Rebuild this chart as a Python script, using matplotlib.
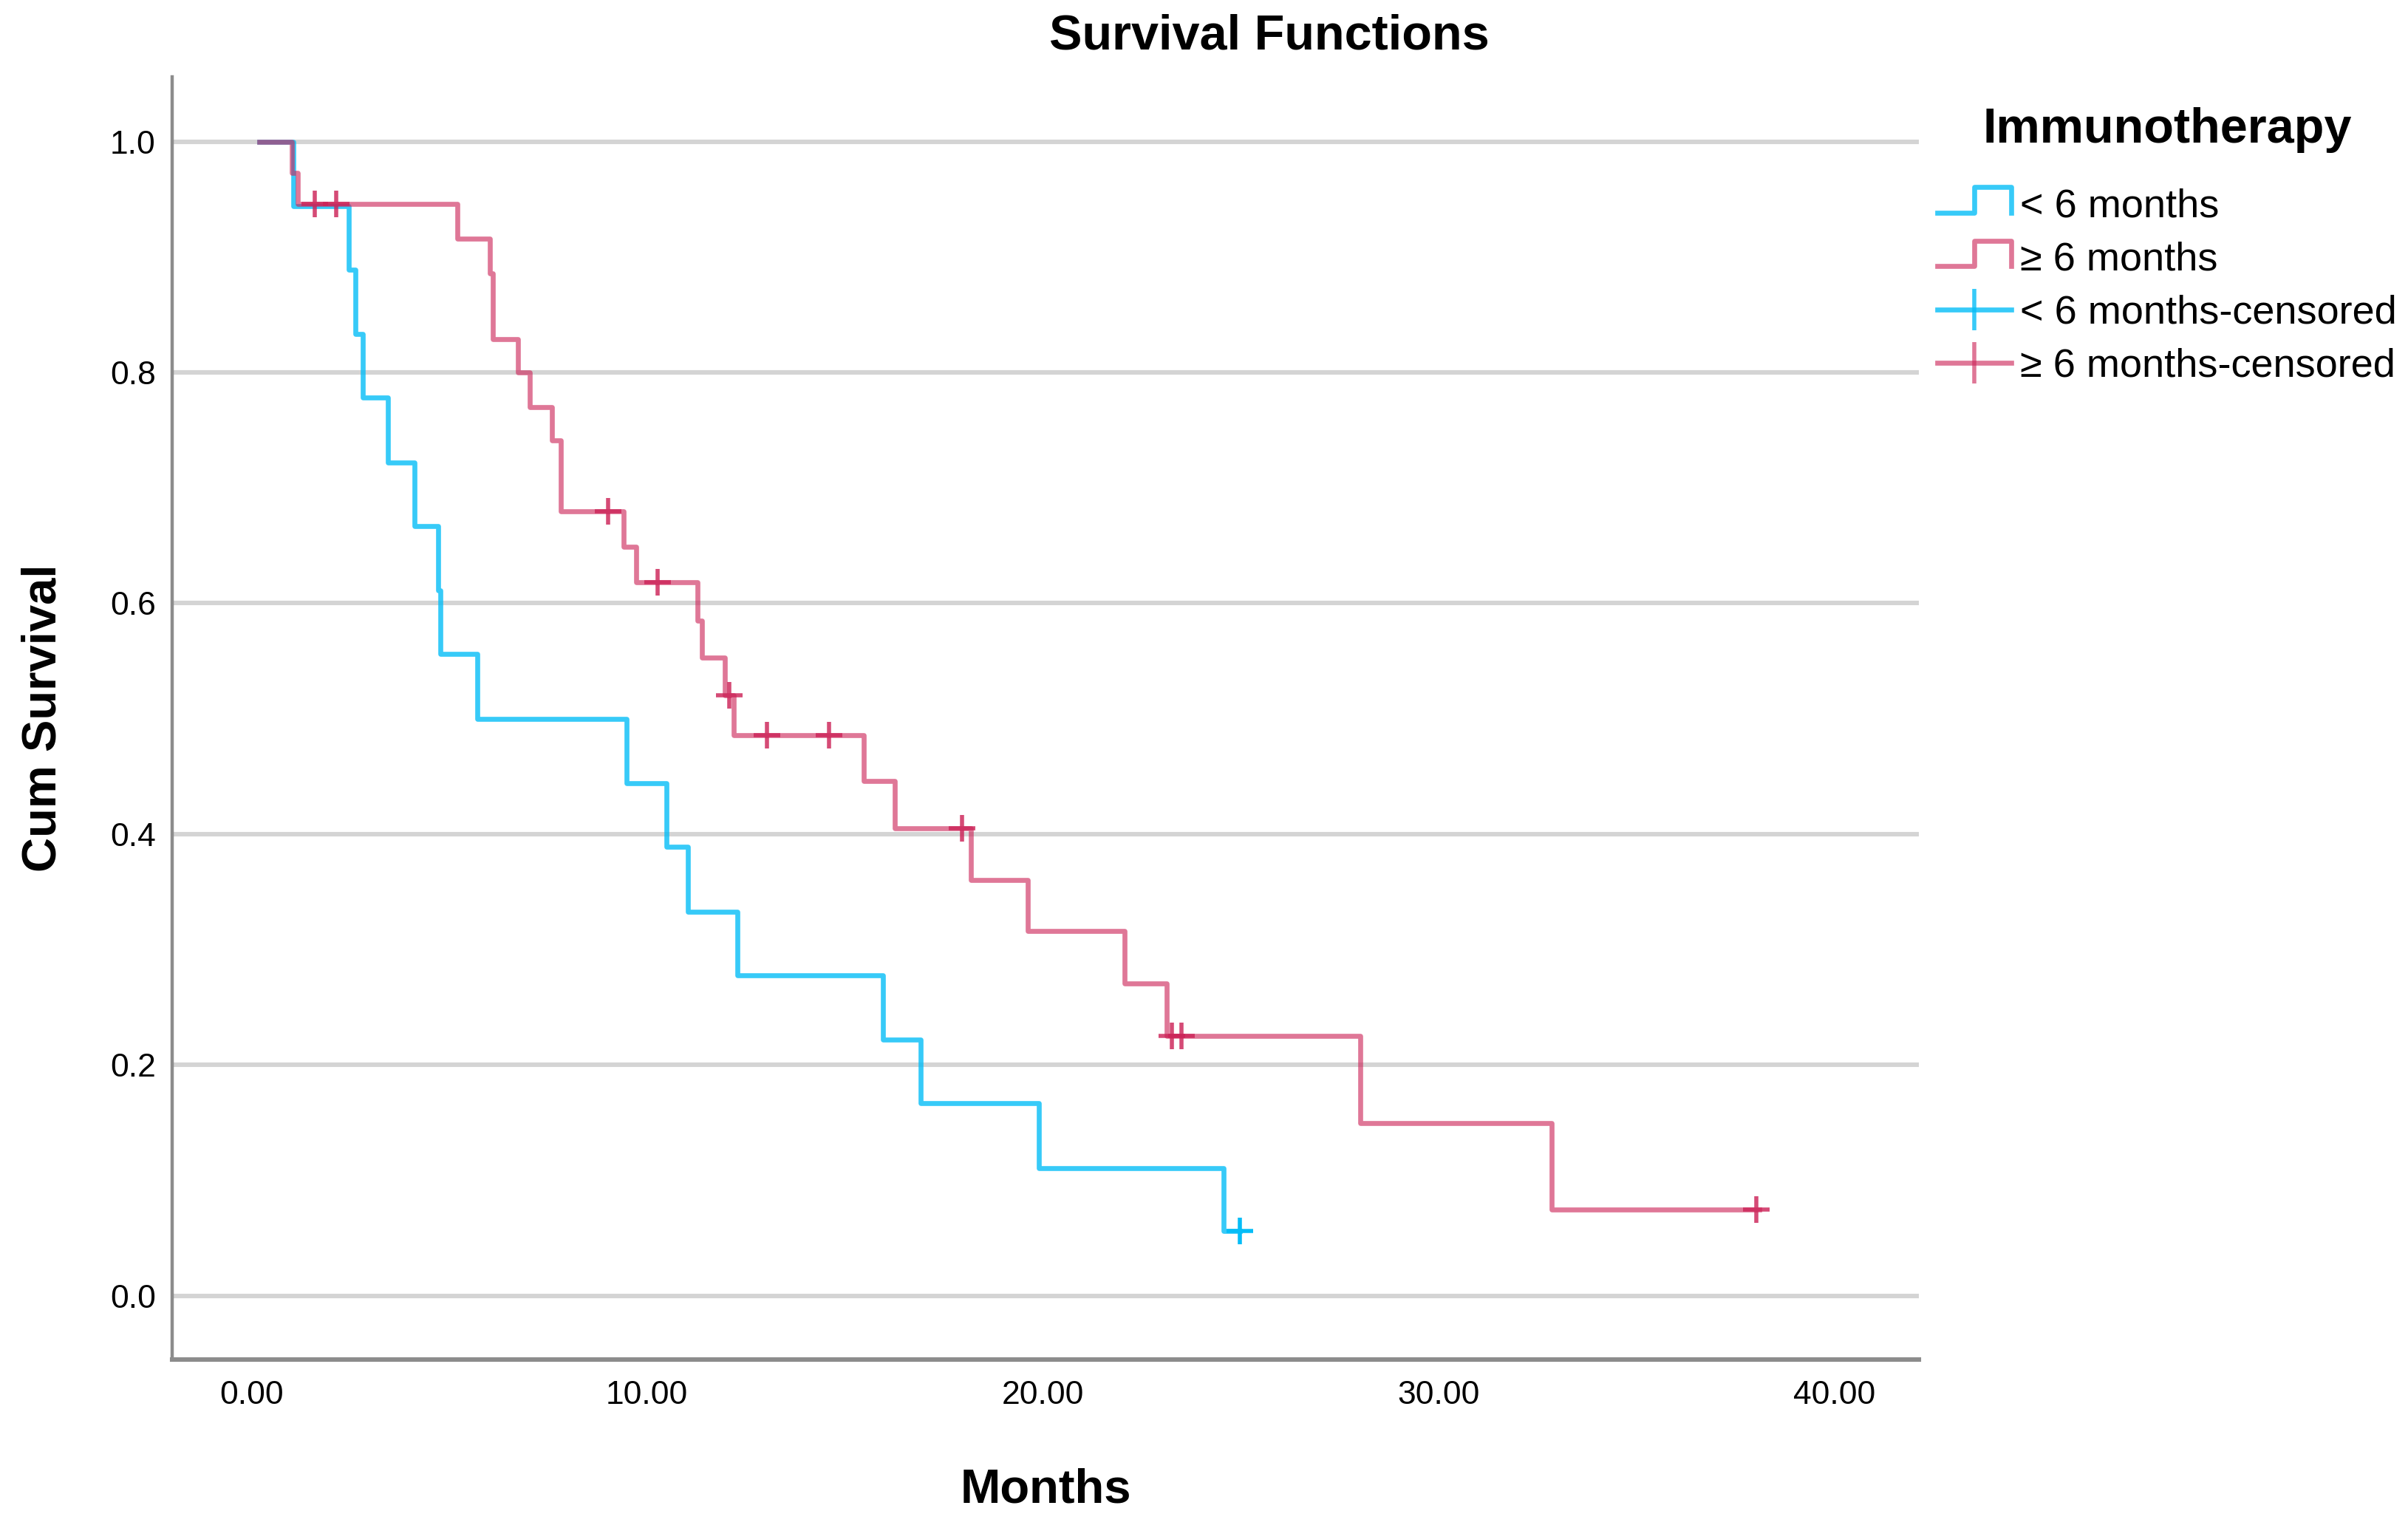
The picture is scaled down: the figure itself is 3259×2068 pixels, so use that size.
import numpy as np
import matplotlib
matplotlib.use("Agg")
import matplotlib.pyplot as plt
from matplotlib.lines import Line2D
from matplotlib.legend_handler import HandlerBase

plt.rcParams['font.family'] = ['Liberation Sans', 'DejaVu Sans']

# < 6 months group: step times and survival levels
blue_t = [0.2, 1.07, 2.46, 2.63, 2.82, 3.45, 4.12, 4.72, 4.78, 5.71, 9.48,
          10.50, 11.03, 12.28, 15.97, 16.92, 19.90, 24.57]
blue_s = [1.0, 0.944, 0.889, 0.833, 0.778, 0.722, 0.667, 0.611, 0.556, 0.500,
          0.444, 0.389, 0.333, 0.278, 0.222, 0.167, 0.111, 0.056]
blue_end = 24.98
blue_cens = [24.98]

# >= 6 months group
red_t = [0.2, 1.02, 1.18, 5.20, 6.02, 6.10, 6.73, 7.03, 7.60, 7.82, 9.40,
         9.72, 11.28, 11.38, 11.97, 12.19, 15.48, 16.26, 18.18, 19.63, 22.07,
         23.14, 28.03, 32.87]
red_s = [1.0, 0.973, 0.946, 0.916, 0.886, 0.829, 0.800, 0.770, 0.741, 0.680,
         0.649, 0.618, 0.585, 0.553, 0.520, 0.486, 0.446, 0.405, 0.360, 0.316,
         0.271, 0.225, 0.150, 0.075]
red_end = 38.1
red_cens = [1.61, 2.15, 9.01, 10.26, 12.08, 13.04, 14.6, 17.97, 23.26, 23.5, 38.03]

labels = ['< 6 months', '\u2265 6 months', '< 6 months-censored', '\u2265 6 months-censored']
blue = '#05bdf7'
red = '#cc2358'


def level_at(ts, ss, x):
    i = np.searchsorted(ts, x, side='right') - 1
    return ss[i]


class StepHandler(HandlerBase):
    def create_artists(self, legend, orig_handle, xdescent, ydescent,
                       width, height, fontsize, trans):
        x0, y0 = -xdescent, -ydescent
        xs = [x0, x0 + 0.5 * width, x0 + 0.5 * width, x0 + width, x0 + width]
        ys = [y0 + 0.15 * height, y0 + 0.15 * height, y0 + 1.05 * height,
              y0 + 1.05 * height, y0 + 0.15 * height]
        ln = Line2D(xs, ys, color=orig_handle.get_color(),
                    lw=orig_handle.get_linewidth(), alpha=orig_handle.get_alpha(),
                    transform=trans)
        return [ln]


fig = plt.figure(figsize=(16.295, 10.34), dpi=200)
ax = fig.add_axes([0.0715, 0.1103, 0.7255, 0.8394])

for ts, ss, end, cens, col, a in [(blue_t, blue_s, blue_end, blue_cens, blue, 0.8),
                                  (red_t, red_s, red_end, red_cens, red, 0.62)]:
    xs = list(ts) + [end]
    ys = list(ss) + [ss[-1]]
    ax.plot(xs, ys, drawstyle='steps-post', color=col, lw=2.4, alpha=a, zorder=3)
    cy = [level_at(ts, ss, c) for c in cens]
    ax.plot(cens, cy, ls='none', marker='+', ms=13, mew=2.0, color=col,
            alpha=min(1, a + 0.2), zorder=4)

ax.set_xlim(-2.0, 42.15)
ax.set_ylim(-0.055, 1.056)
ax.set_xticks([0, 10, 20, 30, 40])
ax.set_xticklabels(['0.00', '10.00', '20.00', '30.00', '40.00'])
ax.set_yticks([0.0, 0.2, 0.4, 0.6, 0.8, 1.0])
ax.set_yticklabels(['0.0', '0.2', '0.4', '0.6', '0.8', '1.0'])
ax.tick_params(axis='both', length=0, labelsize=16)
ax.tick_params(axis='x', pad=10)
ax.tick_params(axis='y', pad=8)
ax.grid(axis='y', color='#d4d4d4', lw=2.2)
ax.set_axisbelow(True)
for s in ['top', 'right']:
    ax.spines[s].set_visible(False)
ax.spines['left'].set_color('#8c8c8c')
ax.spines['left'].set_linewidth(1.6)
ax.spines['bottom'].set_color('#8c8c8c')
ax.spines['bottom'].set_linewidth(2.2)

ax.set_xlabel('Months', fontsize=23.5, fontweight='bold', va='center')
ax.set_ylabel('Cum Survival', fontsize=23.5, fontweight='bold', va='center')
ax.xaxis.set_label_coords(0.5, (1840 - 2017) / 1736)
ax.yaxis.set_label_coords((58 - 233) / 2365, 0.5)
fig.text(0.527, 0.976, 'Survival Functions', fontsize=24, fontweight='bold',
         ha='center', va='center')

h1 = Line2D([], [], color=blue, lw=2.4, alpha=0.8)
h2 = Line2D([], [], color=red, lw=2.4, alpha=0.62)
h3 = Line2D([0, 1], [0, 0], color=blue, lw=2.4, alpha=0.8, marker='|', ms=20, mew=2.0)
h4 = Line2D([0, 1], [0, 0], color=red, lw=2.4, alpha=0.62, marker='|', ms=20, mew=2.0)
h3.set_markevery([0])
h4.set_markevery([0])
leg = fig.legend([h1, h2, h3, h4], labels, loc='upper left',
                 bbox_to_anchor=(2595 / 3259, 1 - 118 / 2068),
                 frameon=False, fontsize=19.5, handlelength=1.85,
                 handletextpad=0.22, labelspacing=0.41, borderpad=0,
                 title='Immunotherapy',
                 title_fontproperties={'size': 24, 'weight': 'bold'},
                 handler_map={h1: StepHandler(), h2: StepHandler()})
leg._legend_box.sep = 17

fig.savefig('out.png', dpi=200)
